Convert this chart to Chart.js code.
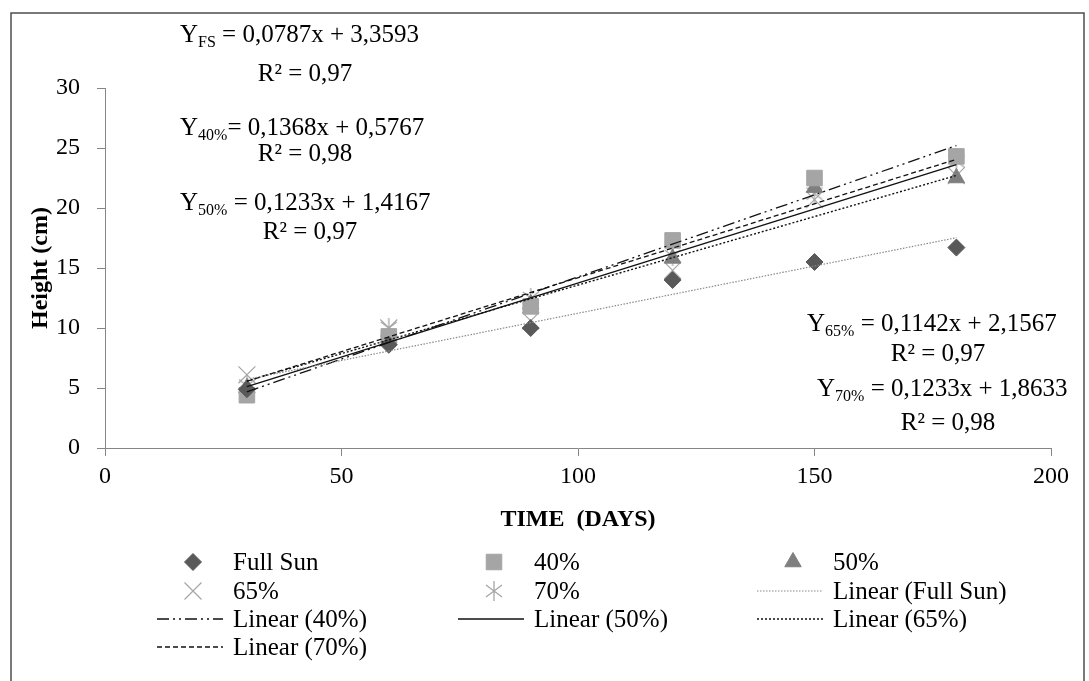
<!DOCTYPE html>
<html>
<head>
<meta charset="utf-8">
<script src="https://cdn.jsdelivr.net/npm/chart.js@4.4.1/dist/chart.umd.min.js"></script>
<style>
  html, body { margin: 0; padding: 0; background: #fff; }
  #wrap { width: 1089px; height: 681px; }
</style>
</head>
<body>
<div id="wrap"><canvas id="growthChart" width="1089" height="681"></canvas></div>
<script>
// --- DATA ---
const days = [30, 60, 90, 120, 150, 180];
const fullSun = [4.9, 8.6, 10.0, 14.0, 15.5, 16.7];
const shade40 = [4.4, 9.3, 11.8, 17.3, 22.5, 24.3];
const shade50 = [5.0, 9.2, 12.0, 15.8, 21.7, 22.5];
const shade65 = [6.1, 10.0, 10.6, 14.8, 20.7, 22.7];
const shade70 = [5.2, 10.0, 12.5, 16.0, 21.2, 23.9];

const seriesNames = ['Full Sun', '40%', '50%', '65%', '70%'];
const eqSubscripts = ['FS', '40%', '50%', '65%', '70%'];
const slopes = [0.0787, 0.1368, 0.1233, 0.1142, 0.1233];
const intercepts = [3.3593, 0.5767, 1.4167, 2.1567, 1.8633];
const r2Values = ['0,97', '0,98', '0,97', '0,97', '0,98'];

const xTicks = [0, 50, 100, 150, 200];
const yTicks = [0, 5, 10, 15, 20, 25, 30];

const SERIF = '"Liberation Serif", "Times New Roman", serif';

// asterisk marker (vertical stroke + X)
const asterisk = document.createElement('canvas');
asterisk.width = 22; asterisk.height = 22;
(function () {
  const c = asterisk.getContext('2d');
  c.strokeStyle = '#a6a6a6';
  c.lineWidth = 1.3;
  c.beginPath();
  c.moveTo(11, 1); c.lineTo(11, 21);
  c.moveTo(3, 5); c.lineTo(19, 17);
  c.moveTo(3, 17); c.lineTo(19, 5);
  c.stroke();
})();

const toPts = ys => days.map((d, i) => ({ x: d, y: ys[i] }));
const trendPts = i => [days[0], days[days.length - 1]].map(d => ({ x: d, y: slopes[i] * d + intercepts[i] }));

const markerSets = [
  { label: seriesNames[0], data: toPts(fullSun), pointStyle: 'rectRot', pointRadius: 8.5, backgroundColor: '#595959', borderColor: '#595959', pointBorderWidth: 1 },
  { label: seriesNames[1], data: toPts(shade40), pointStyle: 'rect', pointRadius: 11, backgroundColor: '#a5a5a5', borderColor: '#a5a5a5', pointBorderWidth: 1 },
  { label: seriesNames[2], data: toPts(shade50), pointStyle: 'triangle', pointRadius: 9.5, backgroundColor: '#7f7f7f', borderColor: '#7f7f7f', pointBorderWidth: 1 },
  { label: seriesNames[3], data: toPts(shade65), pointStyle: 'crossRot', pointRadius: 12, backgroundColor: '#a6a6a6', borderColor: '#a6a6a6', pointBorderWidth: 1.2 },
  { label: seriesNames[4], data: toPts(shade70), pointStyle: asterisk, pointRadius: 11, backgroundColor: '#a6a6a6', borderColor: '#a6a6a6', pointBorderWidth: 1 }
].map(ds => Object.assign(ds, { type: 'scatter', order: 1, showLine: false, pointHoverRadius: ds.pointRadius }));

const trendStyles = [
  { borderColor: '#8a8a8a', borderWidth: 1.2, borderDash: [1.5, 1.5] },
  { borderColor: '#111', borderWidth: 1.3, borderDash: [12, 4, 2, 4, 2, 4] },
  { borderColor: '#111', borderWidth: 1.4, borderDash: [] },
  { borderColor: '#111', borderWidth: 1.4, borderDash: [2, 2] },
  { borderColor: '#111', borderWidth: 1.3, borderDash: [5, 3] }
];

const trendSets = seriesNames.map((name, i) => Object.assign({
  type: 'line',
  label: `Linear (${name})`,
  data: trendPts(i),
  order: 0,
  pointRadius: 0,
  fill: false,
  tension: 0
}, trendStyles[i]));

// --- PLUGINS ---
const framePlugin = {
  id: 'frame',
  beforeDraw(chart) {
    const ctx = chart.ctx;
    ctx.save();
    ctx.strokeStyle = '#4d4d4d';
    ctx.lineWidth = 1.5;
    ctx.strokeRect(11, 13, 1073, 720);
    ctx.restore();
  }
};

function fmt(v) { return String(v).replace('.', ','); }

function drawEquation(ctx, x, y, sub, rest) {
  ctx.font = `25px ${SERIF}`;
  ctx.fillText('Y', x, y);
  let cx = x + ctx.measureText('Y').width;
  ctx.font = `16px ${SERIF}`;
  ctx.fillText(sub, cx, y + 5);
  cx += ctx.measureText(sub).width;
  ctx.font = `25px ${SERIF}`;
  ctx.fillText(rest, cx, y);
}

function drawR2(ctx, cx, y, val) {
  ctx.font = `25px ${SERIF}`;
  const a = 'R', b = '²', c = ' = ' + val;
  const w = ctx.measureText(a + b + c).width;
  ctx.fillText(a + b + c, cx - w / 2, y);
}

const equationPlugin = {
  id: 'equations',
  afterDraw(chart) {
    const ctx = chart.ctx;
    ctx.save();
    ctx.fillStyle = '#000';
    ctx.textBaseline = 'alphabetic';
    ctx.textAlign = 'left';
    const spots = [
      { x: 180, y: 42, r: 305, ry: 81 },
      { x: 180, y: 135, r: 305, ry: 161 },
      { x: 180, y: 210, r: 310, ry: 239 },
      { x: 807, y: 331, r: 938, ry: 361 },
      { x: 817, y: 396, r: 948, ry: 430 }
    ];
    spots.forEach((s, i) => {
      const gap = i === 1 ? '= ' : ' = ';
      drawEquation(ctx, s.x, s.y, eqSubscripts[i], `${gap}${fmt(slopes[i])}x + ${fmt(intercepts[i])}`);
      drawR2(ctx, s.r, s.ry, r2Values[i]);
    });
    ctx.restore();
  }
};

const legendPlugin = {
  id: 'gridLegend',
  afterDraw(chart) {
    const ctx = chart.ctx;
    const colX = [157, 458, 757];
    const rowY = [562, 591, 619, 647];
    const items = markerSets.concat(trendSets);
    ctx.save();
    ctx.font = `25px ${SERIF}`;
    ctx.textBaseline = 'middle';
    ctx.fillStyle = '#000';
    items.forEach((ds, i) => {
      const x0 = colX[i % 3];
      const y = rowY[Math.floor(i / 3)];
      if (ds.type === 'line') {
        ctx.save();
        ctx.strokeStyle = ds.borderColor;
        ctx.lineWidth = ds.borderWidth;
        ctx.setLineDash(ds.borderDash);
        ctx.beginPath();
        ctx.moveTo(x0, y);
        ctx.lineTo(x0 + 66, y);
        ctx.stroke();
        ctx.restore();
      } else {
        ctx.save();
        ctx.fillStyle = ds.backgroundColor;
        ctx.strokeStyle = ds.borderColor;
        ctx.lineWidth = ds.pointBorderWidth;
        Chart.helpers.drawPoint(ctx, { pointStyle: ds.pointStyle, radius: ds.pointRadius, rotation: 0, borderWidth: ds.pointBorderWidth }, x0 + 36, y);
        ctx.restore();
      }
      ctx.fillStyle = '#000';
      ctx.fillText(ds.label, x0 + 76, y + 1);
    });
    ctx.restore();
  }
};

// --- CHART ---
const axisGray = '#868686';

new Chart(document.getElementById('growthChart'), {
  type: 'scatter',
  data: { datasets: trendSets.concat(markerSets) },
  options: {
    responsive: false,
    animation: false,
    devicePixelRatio: 1,
    layout: { padding: { top: 88, right: 38, left: 0, bottom: 0 } },
    plugins: {
      legend: { display: false },
      tooltip: { enabled: false }
    },
    scales: {
      x: {
        type: 'linear',
        min: xTicks[0],
        max: xTicks[xTicks.length - 1],
        afterBuildTicks: s => { s.ticks = xTicks.map(v => ({ value: v })); },
        afterFit: s => { s.height = 233; },
        border: { color: axisGray, width: 1 },
        grid: { drawOnChartArea: false, color: axisGray, tickLength: 8 },
        ticks: { color: '#000', font: { family: SERIF, size: 24 }, padding: 6, maxRotation: 0 },
        title: { display: true, text: 'TIME  (DAYS)', color: '#000', font: { family: SERIF, size: 24, weight: 'bold' }, padding: { top: 0, bottom: 147 } }
      },
      y: {
        type: 'linear',
        min: yTicks[0],
        max: yTicks[yTicks.length - 1],
        afterBuildTicks: s => { s.ticks = yTicks.map(v => ({ value: v })); },
        afterFit: s => { s.width = 105; },
        border: { color: axisGray, width: 1 },
        grid: { drawOnChartArea: false, color: axisGray, tickLength: 8 },
        ticks: { color: '#000', font: { family: SERIF, size: 24 }, padding: 17 },
        title: { display: true, text: 'Height (cm)', color: '#000', font: { family: SERIF, size: 24, weight: 'bold' }, padding: { top: 26, bottom: 0 } }
      }
    }
  },
  plugins: [framePlugin, equationPlugin, legendPlugin]
});
</script>
</body>
</html>
